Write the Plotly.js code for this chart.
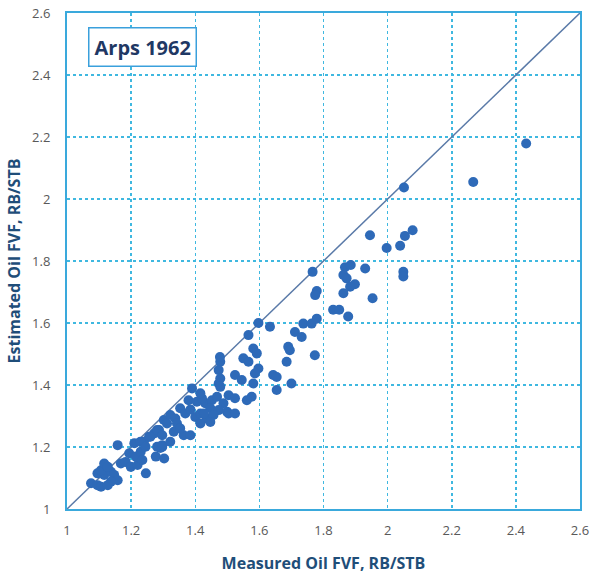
<!DOCTYPE html>
<html>
<head>
<meta charset="utf-8">
<script src="https://cdn.plot.ly/plotly-3.0.1.min.js"></script>
<style>html,body{margin:0;padding:0;background:#fff;}#chart{width:592px;height:586px;}</style>
</head>
<body>
<div id="chart"></div>
<script>
const measured = [
1.075,1.095,1.106,1.095,1.116,1.106,1.137,1.116,1.127,1.147,1.158,1.137,1.127,
1.168,1.183,1.199,1.220,1.246,1.158,1.210,1.194,1.215,1.230,1.235,1.240,1.256,
1.272,1.287,1.297,1.277,1.303,1.291,1.229,1.245,1.281,1.297,1.322,1.260,1.281,
1.297,1.333,1.364,1.385,1.302,1.312,1.322,1.338,1.343,1.353,1.353,1.369,1.379,
1.390,1.400,1.416,1.436,1.405,1.431,1.421,1.416,1.452,1.468,1.488,1.447,1.473,
1.499,1.385,1.427,1.457,1.416,1.447,1.478,1.473,1.478,1.473,1.478,1.477,1.504,
1.524,1.576,1.561,1.504,1.524,1.524,1.545,1.550,1.566,1.581,1.592,1.566,1.597,
1.633,1.597,1.586,1.581,1.643,1.654,1.654,1.700,1.690,1.695,1.685,1.711,1.732,
1.737,1.763,1.779,1.773,1.766,1.779,1.774,1.830,1.849,1.877,1.867,1.885,1.862,
1.872,1.898,1.883,1.862,1.930,1.953,1.945,1.997,2.039,2.054,2.078,2.049,2.049,
2.051,2.267,2.432
];
const estimated = [
1.083,1.077,1.072,1.115,1.110,1.125,1.120,1.147,1.136,1.110,1.093,1.088,1.077,
1.147,1.152,1.136,1.142,1.115,1.206,1.212,1.180,1.169,1.185,1.158,1.217,1.233,
1.244,1.255,1.200,1.169,1.163,1.197,1.217,1.201,1.201,1.206,1.217,1.233,1.255,
1.238,1.249,1.238,1.238,1.287,1.276,1.303,1.292,1.276,1.260,1.325,1.308,1.351,
1.389,1.297,1.308,1.292,1.346,1.341,1.357,1.373,1.351,1.362,1.341,1.325,1.319,
1.314,1.321,1.308,1.303,1.276,1.281,1.475,1.448,1.421,1.405,1.394,1.490,1.367,
1.357,1.362,1.351,1.308,1.308,1.432,1.416,1.486,1.475,1.518,1.502,1.561,1.600,
1.588,1.453,1.437,1.405,1.432,1.426,1.384,1.405,1.523,1.512,1.475,1.571,1.555,
1.598,1.598,1.614,1.496,1.765,1.703,1.690,1.643,1.643,1.621,1.780,1.787,1.755,
1.744,1.725,1.717,1.696,1.776,1.680,1.883,1.842,1.849,1.881,1.899,1.765,1.750,
2.037,2.055,2.179
];
const xTicks = [1,1.2,1.4,1.6,1.8,2,2.2,2.4,2.6];
const xTickText = ['1','1.2','1.4','1.6','1.8','2','2.2','2.4','2.6'];
const yTicks = [1,1.2,1.4,1.6,1.8,2,2.2,2.4,2.6];
const yTickText = ['1','1.2','1.4','1.6','1.8','2','2.2','2.4','2.6'];
const unityLine = [1, 2.6];
const chartLabel = 'Arps 1962';
const xTitle = 'Measured Oil FVF, RB/STB';
const yTitle = 'Estimated Oil FVF, RB/STB';

const traces = [
  {x: unityLine, y: unityLine, mode: 'lines', line: {color: '#5a7aa8', width: 1.5}, hoverinfo: 'skip', showlegend: false},
  {x: measured, y: estimated, mode: 'markers', marker: {color: '#2e6ab8', size: 10, line: {width: 0}}, showlegend: false}
];
const titleFont = {family: 'Open Sans, sans-serif', size: 16, color: '#1f4e79', weight: 'bold'};
const axisCommon = {
  range: [1, 2.6], showline: true, linecolor: '#3aa9dc', linewidth: 2, mirror: true,
  showgrid: true, gridcolor: '#3fb8e0', griddash: 'dot', gridwidth: 1.5,
  zeroline: false, ticks: 'outside', tickcolor: 'rgba(0,0,0,0)',
  tickfont: {family: 'Open Sans, sans-serif', size: 13, color: '#595959'}
};
const layout = {
  width: 592, height: 586,
  margin: {l: 67, r: 12, t: 13, b: 77},
  paper_bgcolor: '#ffffff', plot_bgcolor: '#ffffff',
  xaxis: Object.assign({}, axisCommon, {tickvals: xTicks, ticktext: xTickText, ticklen: 8,
    title: {text: xTitle, font: titleFont, standoff: 20}}),
  yaxis: Object.assign({}, axisCommon, {tickvals: yTicks, ticktext: yTickText, ticklen: 12,
    title: {text: yTitle, font: titleFont, standoff: 8}}),
  annotations: [{
    xref: 'paper', yref: 'paper', x: 0.041, y: 0.972, xanchor: 'left', yanchor: 'top',
    text: '<b>' + chartLabel + '</b>', showarrow: false,
    font: {family: 'Open Sans, sans-serif', size: 20, color: '#1f3864'},
    bordercolor: '#3aa0dc', borderwidth: 1.5, borderpad: 5, bgcolor: '#ffffff'
  }]
};
Plotly.newPlot('chart', traces, layout, {displayModeBar: false, staticPlot: true});
</script>
</body>
</html>
